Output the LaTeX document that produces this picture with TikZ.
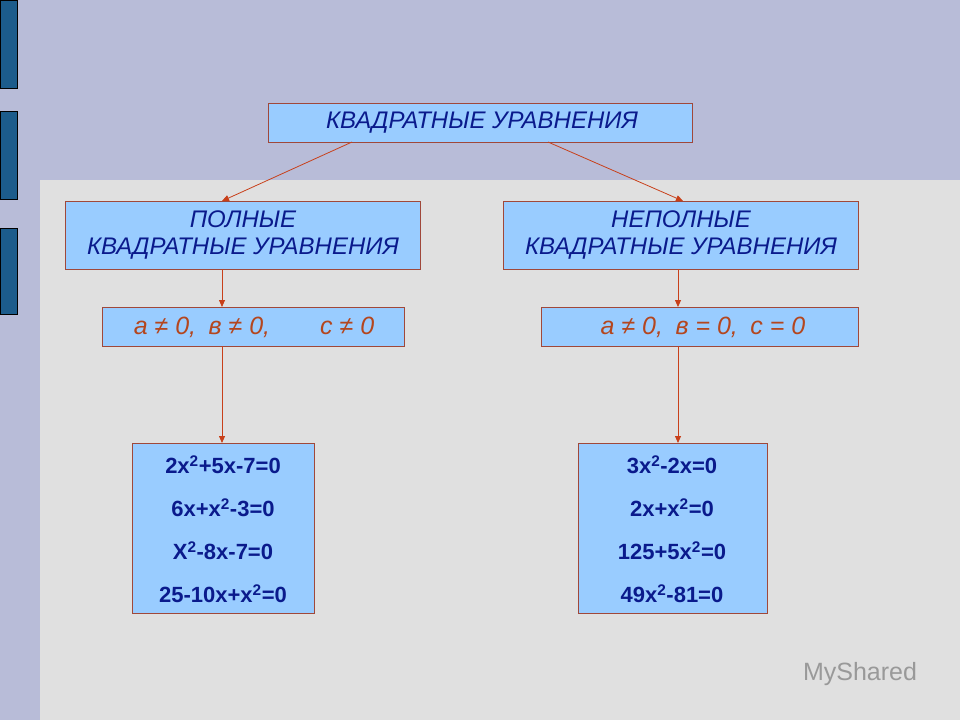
\documentclass[tikz,border=0pt]{standalone}
\usepackage{fontspec}
\setmainfont{Liberation Sans}
\usetikzlibrary{arrows.meta}
\definecolor{bgtop}{HTML}{B8BCD8}
\definecolor{bglow}{HTML}{E0E0E0}
\definecolor{bar}{HTML}{1C5C8C}
\definecolor{boxfill}{HTML}{99CCFF}
\definecolor{boxline}{HTML}{A0483A}
\definecolor{txtblue}{HTML}{0A1A8C}
\definecolor{txtred}{HTML}{B4461E}
\definecolor{arr}{HTML}{C8401A}
\tikzset{
  bx/.style={draw=boxline, fill=boxfill, line width=0.8pt},
  lbl/.style={text=txtblue, font=\itshape\fontsize{24}{27}\selectfont, align=center},
  cond/.style={text=txtred, font=\itshape\fontsize{25}{27}\selectfont},
  eq/.style={text=txtblue, font=\bfseries\fontsize{22}{43}\selectfont, align=center},
  con/.style={draw=arr, line width=0.8pt, -{Triangle[length=7pt,width=6pt]}},
  barr/.style={fill=bar, draw=black, line width=0.6pt}
}
\begin{document}
\begin{tikzpicture}[x=1pt,y=-1pt]
\fill[bgtop] (0,0) rectangle (960,720);
\fill[bglow] (40,180) rectangle (960,720);
\useasboundingbox (0,0) rectangle (960,720);
\draw[barr] (0,0) rectangle (17,88);
\draw[barr] (0,111) rectangle (17,199);
\draw[barr] (0,228) rectangle (17,314);

\draw[bx] (268,103) rectangle (692,142);
\node[lbl] (top) at (482,123) {КВАДРАТНЫЕ УРАВНЕНИЯ};
\draw[bx] (65,201) rectangle (420,269);
\node[lbl] (l) at (243,235) {ПОЛНЫЕ\\КВАДРАТНЫЕ УРАВНЕНИЯ};
\draw[bx] (503,201) rectangle (858,269);
\node[lbl] (r) at (681,235) {НЕПОЛНЫЕ\\КВАДРАТНЫЕ УРАВНЕНИЯ};
\draw[bx] (102,307) rectangle (404,346);
\node[cond] (lc) at (254,327) {а ≠ 0,\enspace в ≠ 0,\qquad с ≠ 0};
\draw[bx] (541,307) rectangle (858,346);
\node[cond] (rc) at (703,327) {а ≠ 0,\enspace в = 0,\enspace с = 0};
\draw[bx] (132,443) rectangle (314,613);
\node[eq] (le) at (223,529) {2x\textsuperscript{2}+5x-7=0\\6x+x\textsuperscript{2}-3=0\\X\textsuperscript{2}-8x-7=0\\25-10x+x\textsuperscript{2}=0};
\draw[bx] (578,443) rectangle (767,613);
\node[eq] (re) at (672,529) {3x\textsuperscript{2}-2x=0\\2x+x\textsuperscript{2}=0\\125+5x\textsuperscript{2}=0\\49x\textsuperscript{2}-81=0};

\coordinate (t1) at (352,142); \coordinate (t2) at (548,142);
\coordinate (l1) at (222,201); \coordinate (r1) at (683,201);
\coordinate (l2) at (222,269); \coordinate (l3) at (222,307);
\coordinate (l4) at (222,346); \coordinate (l5) at (222,443);
\coordinate (r2) at (678,269); \coordinate (r3) at (678,307);
\coordinate (r4) at (678,346); \coordinate (r5) at (678,443);
\draw[con] (t1) -- (l1);
\draw[con] (t2) -- (r1);
\draw[con] (l2) -- (l3);
\draw[con] (l4) -- (l5);
\draw[con] (r2) -- (r3);
\draw[con] (r4) -- (r5);
\node[text=gray!80, font=\fontsize{25}{27}\selectfont] (wm) at (860,674) {MyShared};
\end{tikzpicture}
\end{document}
